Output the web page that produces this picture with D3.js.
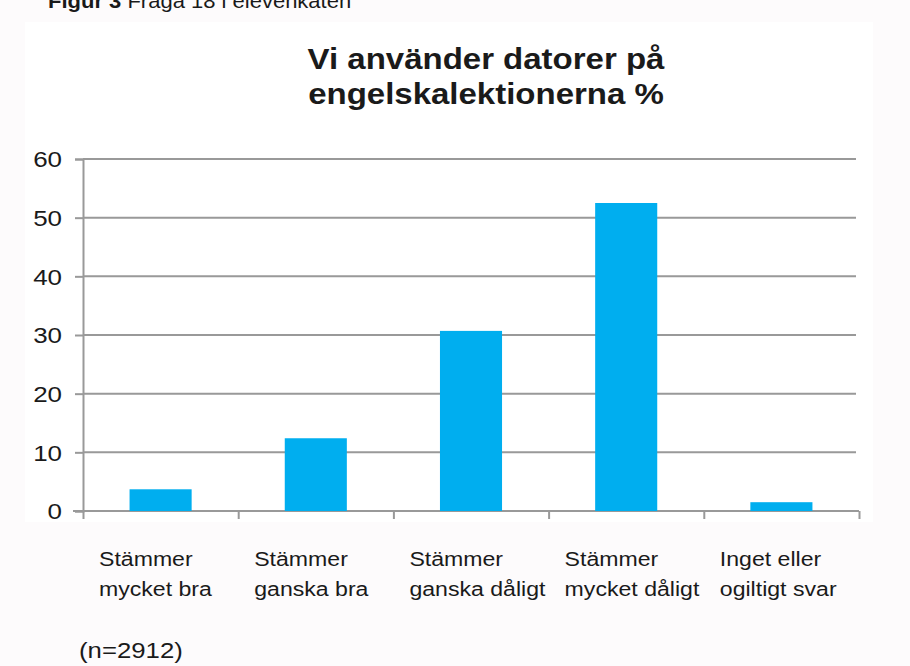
<!DOCTYPE html>
<html>
<head>
<meta charset="utf-8">
<script src="https://cdn.jsdelivr.net/npm/d3@7"></script>
<style>
  body { margin: 0; background: #fdfbfc; }
  text { font-family: "Liberation Sans", Arial, Helvetica, sans-serif; fill: #1a1a1a; }
</style>
</head>
<body>
<div class="chart"></div>
<script>
const categories = [
  ["Stämmer", "mycket bra"],
  ["Stämmer", "ganska bra"],
  ["Stämmer", "ganska dåligt"],
  ["Stämmer", "mycket dåligt"],
  ["Inget eller", "ogiltigt svar"]
];
const values = [3.7, 12.4, 30.7, 52.5, 1.5];
const yTicks = [0, 10, 20, 30, 40, 50, 60];
const titleLines = ["Vi använder datorer på", "engelskalektionerna %"];
const note = "(n=2912)";

const width = 910;
const height = 666;
const margin = { top: 159, left: 83, right: 51, bottom: 155 };
const plotW = width - margin.left - margin.right;
const plotH = height - margin.top - margin.bottom;
const stretch = 1.1; // text in the source image is a bit wide

const svg = d3.select(".chart")
  .append("svg")
  .attr("width", width)
  .attr("height", height);

// white image area behind the chart
svg.append("rect")
  .attr("x", 25).attr("y", 22)
  .attr("width", 848).attr("height", 500)
  .attr("fill", "#fff");

// header, cut off at the top of the page
const head = svg.append("text")
  .attr("transform", `translate(48,8) scale(${stretch},1)`)
  .style("font-size", "20px");
head.append("tspan").style("font-weight", "bold").text("Figur 3 ");
head.append("tspan").text("Fråga 18 i elevenkäten");

const x = d3.scaleBand()
  .domain(d3.range(categories.length))
  .range([0, plotW])
  .paddingInner(0.6)
  .paddingOuter(0.3);

const y = d3.scaleLinear()
  .domain([0, 60])
  .range([plotH, 0]);

const g = svg.append("g")
  .attr("transform", `translate(${margin.left},${margin.top})`);

// gridlines
g.append("g")
  .selectAll("line")
  .data(yTicks.filter(d => d > 0))
  .enter()
  .append("line")
  .attr("x1", 0)
  .attr("x2", plotW - 3)
  .attr("y1", d => y(d))
  .attr("y2", d => y(d))
  .attr("stroke", "#999")
  .attr("stroke-width", 2);

// y axis
const yAxis = g.append("g")
  .call(d3.axisLeft(y).tickValues(yTicks).tickSize(8).tickFormat(""));
yAxis.select(".domain").attr("stroke", "#999").attr("stroke-width", 2);
yAxis.selectAll(".tick line").attr("stroke", "#999").attr("stroke-width", 2);

// y tick labels, stretched like the source
g.append("g")
  .selectAll("text")
  .data(yTicks)
  .enter()
  .append("text")
  .attr("transform", d => `translate(-21,${y(d) + 4}) scale(1.18,1)`)
  .attr("dy", "0.2em")
  .attr("text-anchor", "end")
  .style("font-size", "22px")
  .text(d => d);

// x axis with ticks on category boundaries
const xb = d3.scaleLinear().domain([0, categories.length]).range([0, plotW]);
const xAxis = g.append("g")
  .attr("transform", `translate(0,${plotH})`)
  .call(d3.axisBottom(xb).tickValues(d3.range(categories.length + 1)).tickSize(8).tickFormat(""));
xAxis.select(".domain").attr("stroke", "#999").attr("stroke-width", 2).attr("d", `M-10,0H${plotW}`);
xAxis.selectAll(".tick line").attr("stroke", "#999").attr("stroke-width", 2);

// bars
g.append("g")
  .selectAll("rect")
  .data(values)
  .enter()
  .append("rect")
  .attr("x", (d, i) => x(i))
  .attr("y", d => y(d))
  .attr("width", x.bandwidth())
  .attr("height", d => plotH - y(d))
  .attr("fill", "#00aeef");

// category labels
const labels = g.append("g")
  .selectAll("text")
  .data(categories)
  .enter()
  .append("text")
  .attr("transform", (d, i) => `translate(${xb(i) + 16},${plotH + 55}) scale(${stretch},1)`)
  .style("font-size", "21px");
labels.selectAll("tspan")
  .data(d => d)
  .enter()
  .append("tspan")
  .attr("x", 0)
  .attr("dy", (d, i) => i === 0 ? 0 : 30)
  .text(d => d);

// title
svg.append("g")
  .selectAll("text")
  .data(titleLines)
  .enter()
  .append("text")
  .attr("transform", (d, i) => `translate(486,${69 + i * 35}) scale(${stretch},1)`)
  .attr("text-anchor", "middle")
  .style("font-size", "30px")
  .style("font-weight", "bold")
  .text(d => d);

svg.append("text")
  .attr("transform", `translate(79,658) scale(1.12,1)`)
  .style("font-size", "23px")
  .text(note);
</script>
</body>
</html>
